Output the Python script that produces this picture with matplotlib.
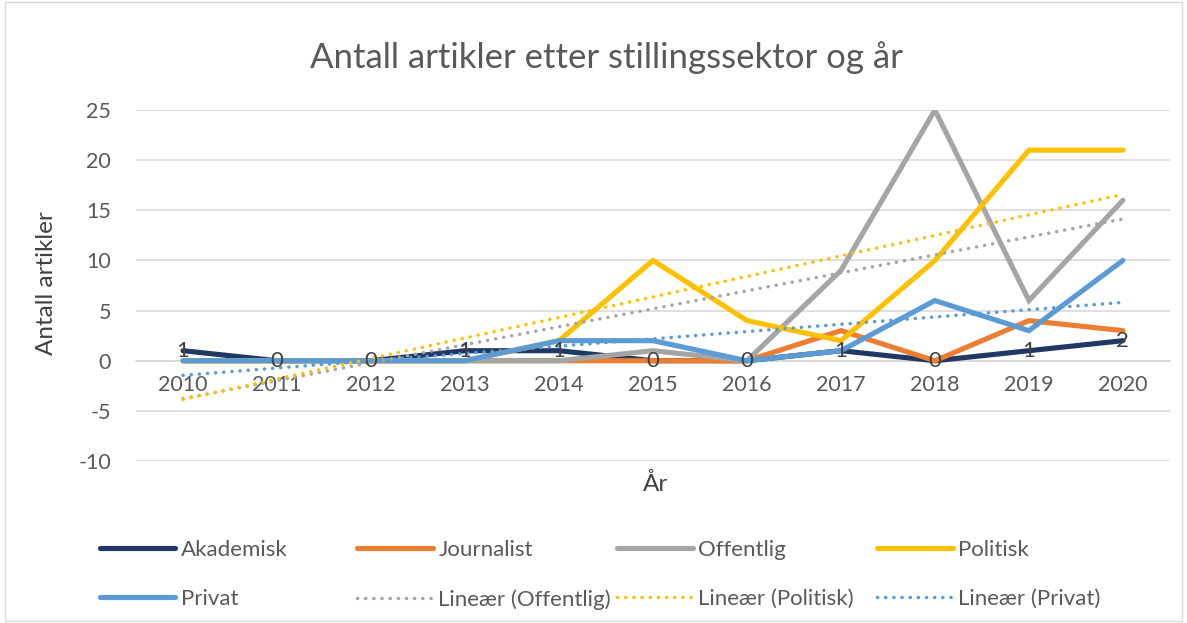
import numpy as np
import matplotlib
matplotlib.use("Agg")
import matplotlib.pyplot as plt
from matplotlib.patches import Rectangle

plt.rcParams["font.family"] = ["Lato", "DejaVu Sans"]
plt.rcParams["axes.unicode_minus"] = False

years = ["2010", "2011", "2012", "2013", "2014", "2015", "2016", "2017", "2018", "2019", "2020"]
akademisk = [1, 0, 0, 1, 1, 0, 0, 1, 0, 1, 2]
journalist = [0, 0, 0, 0, 0, 0, 0, 3, 0, 4, 3]
offentlig = [0, 0, 0, 0, 0, 1, 0, 9, 25, 6, 16]
politisk = [0, 0, 0, 0, 2, 10, 4, 2, 10, 21, 21]
privat = [0, 0, 0, 0, 2, 2, 0, 1, 6, 3, 10]

C = {"Akademisk": "#203864", "Journalist": "#ED7D31", "Offentlig": "#A5A5A5",
     "Politisk": "#FFC000", "Privat": "#5B9BD5"}
TXT = "#595959"

fig = plt.figure(figsize=(11.87, 6.23), dpi=100)
ax = fig.add_axes([0.1146, 0.26, 0.871, 0.5634])
x = np.arange(len(years))

series = [("Akademisk", akademisk), ("Journalist", journalist), ("Offentlig", offentlig),
          ("Politisk", politisk), ("Privat", privat)]
handles = {}
for name, vals in series:
    handles[name], = ax.plot(x, vals, color=C[name], lw=3.7, solid_joinstyle="miter",
                             solid_capstyle="round", label=name, zorder=3)

# linear trendlines (least squares, like Excel)
for name, vals in [("Offentlig", offentlig), ("Politisk", politisk), ("Privat", privat)]:
    k, m = np.polyfit(x, vals, 1)
    handles["Lineær (" + name + ")"], = ax.plot(
        x, k * x + m, color=C[name], lw=2.5, linestyle=(0, (0.05, 2.3)),
        dash_capstyle="round", zorder=4, label="Lineær (" + name + ")")

for xi, v in zip(x, akademisk):
    ax.text(xi, v, str(v), ha="center", va="center", fontsize=16, color="#404040", zorder=5)

ax.set_xlim(-0.5, len(years) - 0.5)
ax.set_ylim(-10, 25)
ax.set_yticks(np.arange(-10, 26, 5))
ax.set_xticks(x)
ax.set_xticklabels(years)
ax.grid(axis="y", color="#D9D9D9", lw=1.2)
ax.set_axisbelow(True)
for s in ["top", "right", "left"]:
    ax.spines[s].set_visible(False)
ax.spines["bottom"].set_position(("data", 0))
ax.spines["bottom"].set_color("#D9D9D9")
ax.spines["bottom"].set_linewidth(1.2)
ax.tick_params(length=0, labelsize=15.5, colors=TXT, pad=10)
ax.tick_params(axis="y", pad=18)

fig.text(0.511, 0.908, "Antall artikler etter stillingssektor og år", ha="center",
         va="center", fontsize=25, color=TXT)
fig.text(0.039, 0.545, "Antall artikler", rotation=90, ha="center", va="center",
         fontsize=17.5, color="#404040")
fig.text(0.552, 0.223, "År", ha="center", va="center", fontsize=17.5, color="#404040")

cols = [["Akademisk", "Privat"], ["Journalist", "Lineær (Offentlig)"],
        ["Offentlig", "Lineær (Politisk)"], ["Politisk", "Lineær (Privat)"]]
xs = [0.084, 0.301, 0.520, 0.739]
for cx, names in zip(xs, cols):
    leg = fig.legend([handles[n] for n in names], names, loc="upper left",
                     bbox_to_anchor=(cx, 0.133), frameon=False, fontsize=16,
                     handlelength=3.4, handletextpad=0.25, labelspacing=1.3,
                     borderaxespad=0, borderpad=0)
    for t in leg.get_texts():
        t.set_color(TXT)

fig.add_artist(Rectangle((0.004, 0.004), 0.992, 0.992, transform=fig.transFigure,
                         fill=False, edgecolor="#D9D9D9", lw=1))

fig.savefig("out.png", dpi=100)
